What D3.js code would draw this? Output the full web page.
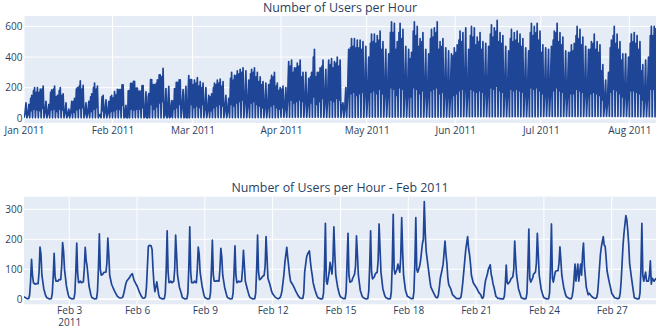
<!DOCTYPE html>
<html><head><meta charset="utf-8">
<script src="https://cdn.jsdelivr.net/npm/d3@7"></script>
<style>body{margin:0;background:#fff}svg{display:block}</style>
</head><body>
<svg id="c" width="660" height="330"></svg>
<script>
// ---------- DATA ----------
const monthTicks = ["2011-01-01","2011-02-01","2011-03-01","2011-04-01","2011-05-01","2011-06-01","2011-07-01","2011-08-01"];
const topYTicks = [0, 200, 400, 600];
const febTickDays = [3, 6, 9, 12, 15, 18, 21, 24, 27];
const botYTicks = [0, 100, 200, 300];

// Top chart: per-day values (Jan 1 2011 .. Aug 10 2011)
// night low per month (Jan..Aug)
const monthLow = [3, 3, 4, 6, 8, 10, 12, 10];
// morning (8h) value per day
const topAM = [
  30,25,
  130,180,170,170,190,40,30,
  170,190,140,180,150,35,20,
  40,110,190,210,190,30,35,
  140,200,190,20,140,40,35,
  140,133,153,187,218,5,4,
  228,241,197,178,214,6,3,
  253,220,228,283,272,20,8,
  10,114,234,251,70,5,4,
  253,220,230,210,200,60,50,
  140,200,220,230,210,50,45,
  260,250,280,290,300,100,80,
  290,300,270,240,220,70,70,
  250,270,210,180,190,60,120,
  340,300,330,340,270,100,90,
  270,400,270,300,340,100,120,
  350,330,360,340,90,60,150,
  460,470,460,460,450,150,130,
  490,500,490,510,450,150,140,
  560,560,450,560,520,150,150,
  390,570,540,470,500,150,140,
  520,530,560,450,470,150,140,
  140,410,430,510,500,190,150,
  540,530,480,500,450,160,150,
  550,530,570,500,490,150,140,
  520,500,510,490,470,150,140,
  560,540,560,510,430,150,150,
  150,510,560,500,480,140,140,
  430,440,540,520,480,150,150,
  450,490,450,430,310,80,100,
  460,540,490,450,380,140,130,
  490,500,490,450,310,120,130,
  540,540,590
];
// midday (12h) value per day
const topMid = [
  60,50,
  50,60,55,50,65,70,60,
  55,60,45,60,55,60,40,
  60,40,55,65,70,60,70,
  45,60,70,15,50,80,70,
  45,50,60,58,85,50,178,
  60,55,60,60,70,84,140,
  90,60,75,100,110,100,130,
  84,60,70,90,117,150,180,
  90,70,80,70,90,120,100,
  50,70,80,90,80,100,90,
  90,80,100,110,120,200,170,
  100,110,90,80,70,150,140,
  80,90,70,60,70,130,250,
  120,100,110,120,110,200,170,
  100,140,90,110,130,220,260,
  120,110,130,120,60,130,300,
  160,170,150,160,170,330,280,
  170,180,160,190,160,320,300,
  200,190,150,200,190,330,310,
  140,200,190,160,180,310,290,
  180,190,200,160,170,320,300,
  300,150,160,180,190,400,310,
  190,180,170,180,170,340,320,
  200,190,210,180,170,330,300,
  190,180,190,180,170,320,300,
  200,190,200,180,160,320,310,
  330,180,200,180,170,300,290,
  160,160,190,180,170,320,300,
  160,170,160,150,120,180,200,
  170,190,180,160,140,290,280,
  180,180,170,160,120,260,270,
  190,190
];
// daily maximum (afternoon / evening, 17h) per day
const topPM = [
  100,90,
  150,200,200,190,210,110,90,
  185,210,150,200,160,100,60,
  110,130,200,245,215,100,110,
  160,230,210,25,150,120,110,
  150,174,189,187,218,85,180,
  228,241,197,178,214,173,161,
  253,220,251,283,326,194,209,
  115,194,234,251,187,209,279,
  253,250,265,240,230,200,150,
  160,230,250,255,240,150,130,
  300,280,310,320,330,310,250,
  320,330,300,270,240,230,220,
  280,300,230,200,210,200,370,
  380,330,360,380,300,300,260,
  300,450,300,330,380,320,380,
  390,370,400,380,100,200,450,
  520,520,510,510,500,470,400,
  550,550,540,570,500,450,420,
  630,620,500,620,580,470,450,
  430,630,600,520,560,450,420,
  580,590,630,500,520,460,440,
  420,460,480,570,560,590,450,
  600,590,530,560,500,490,470,
  610,590,640,560,540,470,440,
  580,560,570,550,520,460,440,
  620,600,620,570,480,460,450,
  470,570,620,560,530,440,430,
  480,490,600,580,530,470,450,
  500,550,500,480,350,250,300,
  510,600,550,500,420,420,400,
  550,560,540,500,350,380,400,
  600,600
];

// Bottom chart: Feb 2011, values at these hours of each day
const febHours = [0,3,5,6,7,8,9,10,12,13,15,16,17,18,19,21,23];
const febUsers = [
  [8,2,2,15,60,133,80,55,50,52,52,90,174,150,80,35,12],
  [6,1,2,18,75,153,75,60,60,65,65,110,189,160,100,45,15],
  [6,1,2,20,90,187,85,55,60,55,58,100,173,130,110,45,15],
  [6,1,2,25,100,218,100,80,85,90,90,120,204,150,80,50,35],
  [28,10,5,4,4,5,8,20,50,60,68,72,78,82,85,62,50],
  [45,20,8,4,3,4,8,40,175,180,178,165,100,50,25,58,15],
  [5,1,2,20,100,228,90,55,60,55,60,100,214,150,80,40,20],
  [6,1,2,20,110,241,90,55,55,60,55,100,174,150,90,45,15],
  [6,1,2,20,100,197,80,60,60,62,60,100,170,140,80,40,15],
  [6,1,2,20,90,178,80,55,60,58,60,100,163,110,60,35,12],
  [6,1,2,20,100,214,90,65,70,75,80,110,209,140,70,50,25],
  [18,6,2,2,3,6,15,30,84,123,173,140,110,80,60,50,38],
  [30,12,4,3,3,3,20,90,140,150,161,128,100,80,55,30,12],
  [5,1,2,20,100,253,60,50,90,123,84,130,241,150,80,40,15],
  [8,2,2,25,120,220,80,57,60,70,84,110,211,150,80,30,10],
  [6,1,2,25,110,228,90,68,75,85,90,130,251,170,90,35,12],
  [6,1,2,25,120,283,100,84,100,117,90,140,272,160,80,30,10],
  [8,2,2,25,120,272,100,90,110,128,185,200,326,220,160,110,60],
  [40,20,8,5,5,15,40,70,100,117,194,150,120,70,48,35,15],
  [12,3,2,2,3,8,30,60,130,165,209,170,150,120,80,55,45],
  [40,22,15,5,3,10,40,62,84,100,115,84,70,51,40,10,3],
  [3,1,1,10,50,114,55,51,60,68,75,100,194,130,80,35,15],
  [5,1,2,20,110,234,70,57,70,84,90,120,220,150,80,35,12],
  [5,1,2,20,110,251,70,57,90,95,95,120,175,130,80,40,15],
  [8,2,2,10,30,70,117,60,117,60,117,80,150,187,110,40,15],
  [20,8,4,3,3,5,20,60,150,175,209,180,177,140,95,62,35],
  [20,5,3,2,2,4,20,60,180,220,279,265,230,185,120,70,25],
  [5,1,2,20,100,253,80,60,90,60,60,80,128,50,70,60,70]
];

// ---------- DRAW ----------
const HR = 36e5, DAY = 864e5;
const FONT = "'Open Sans', sans-serif";
const TXT = "#2a3f5f";
const LINE = "#1f4597";
const svg = d3.select("#c");

const t0 = Date.UTC(2011, 0, 1);
const topPts = [];
topAM.forEach((am, d) => {
  const base = t0 + d * DAY;
  const m = new Date(base).getUTCMonth();
  topPts.push([base, monthLow[m]]);
  topPts.push([base + 8 * HR, am]);
  if (d < topPM.length) {
    topPts.push([base + 12 * HR, topMid[d]]);
    topPts.push([base + 17 * HR, topPM[d]]);
  }
});

const botPts = [];
febUsers.forEach((row, i) => {
  row.forEach((v, j) => botPts.push([Date.UTC(2011, 1, i + 1, febHours[j]), v]));
});

function panel(cfg) {
  const {x0, x1, y0, y1, xDomain, yDomain, pts, xTicks, xFmt, yTicks, title, titleY, xPad, id} = cfg;
  const x = d3.scaleUtc().domain(xDomain).range([x0, x1]);
  const y = d3.scaleLinear().domain(yDomain).range([y1, y0]);
  const g = svg.append("g");
  g.append("rect").attr("x", x0).attr("y", y0).attr("width", x1 - x0).attr("height", y1 - y0).attr("fill", "#e5ecf6");
  g.append("g").selectAll("line").data(xTicks).join("line")
    .attr("x1", d => x(d)).attr("x2", d => x(d)).attr("y1", y0).attr("y2", y1)
    .attr("stroke", "#fff").attr("stroke-width", 1);
  g.append("g").selectAll("line").data(yTicks).join("line")
    .attr("x1", x0).attr("x2", x1).attr("y1", d => y(d)).attr("y2", d => y(d))
    .attr("stroke", "#fff").attr("stroke-width", d => d === 0 ? 1.8 : 1);
  svg.append("clipPath").attr("id", id).append("rect")
    .attr("x", x0).attr("y", y0).attr("width", x1 - x0).attr("height", y1 - y0);
  g.append("path").datum(pts)
    .attr("clip-path", `url(#${id})`)
    .attr("fill", "none").attr("stroke", LINE).attr("stroke-width", 1.7)
    .attr("stroke-linejoin", "round")
    .attr("d", d3.line().x(d => x(d[0])).y(d => y(d[1])));
  const xa = g.append("g").attr("transform", `translate(0,${y1})`)
    .call(d3.axisBottom(x).tickValues(xTicks).tickSize(0).tickPadding(xPad).tickFormat(xFmt));
  xa.select(".domain").remove();
  xa.selectAll("text").attr("fill", TXT).style("font-family", FONT).style("font-size", "10px");
  const ya = g.append("g").attr("transform", `translate(${x0},0)`)
    .call(d3.axisLeft(y).tickValues(yTicks).tickSize(0).tickPadding(1.5));
  ya.select(".domain").remove();
  ya.selectAll("text").attr("fill", TXT).style("font-family", FONT).style("font-size", "10px");
  svg.append("text").attr("x", (x0 + x1) / 2).attr("y", titleY).attr("text-anchor", "middle")
    .attr("fill", TXT).style("font-family", FONT).style("font-size", "12.4px").text(title);
  return xa;
}

panel({
  id: "clipTop", x0: 24, x1: 656, y0: 16, y1: 123,
  xDomain: d3.extent(topPts, d => d[0]), yDomain: [-31, 668], pts: topPts,
  xTicks: monthTicks.map(s => new Date(s + "T00:00:00Z")),
  xFmt: d3.utcFormat("%b %Y"), yTicks: topYTicks,
  title: "Number of Users per Hour", titleY: 12, xPad: 3.4
});

const botX = panel({
  id: "clipBot", x0: 24, x1: 656, y0: 196.7, y1: 304.3,
  xDomain: d3.extent(botPts, d => d[0]), yDomain: [-17, 342], pts: botPts,
  xTicks: febTickDays.map(d => new Date(Date.UTC(2011, 1, d))),
  xFmt: d3.utcFormat("%b %-d"), yTicks: botYTicks,
  title: "Number of Users per Hour - Feb 2011", titleY: 192, xPad: 2.7
});
botX.selectAll("text").filter((d, i) => i === 0)
  .append("tspan").attr("x", 0).attr("dy", "1.15em").text("2011");
</script>
</body></html>
